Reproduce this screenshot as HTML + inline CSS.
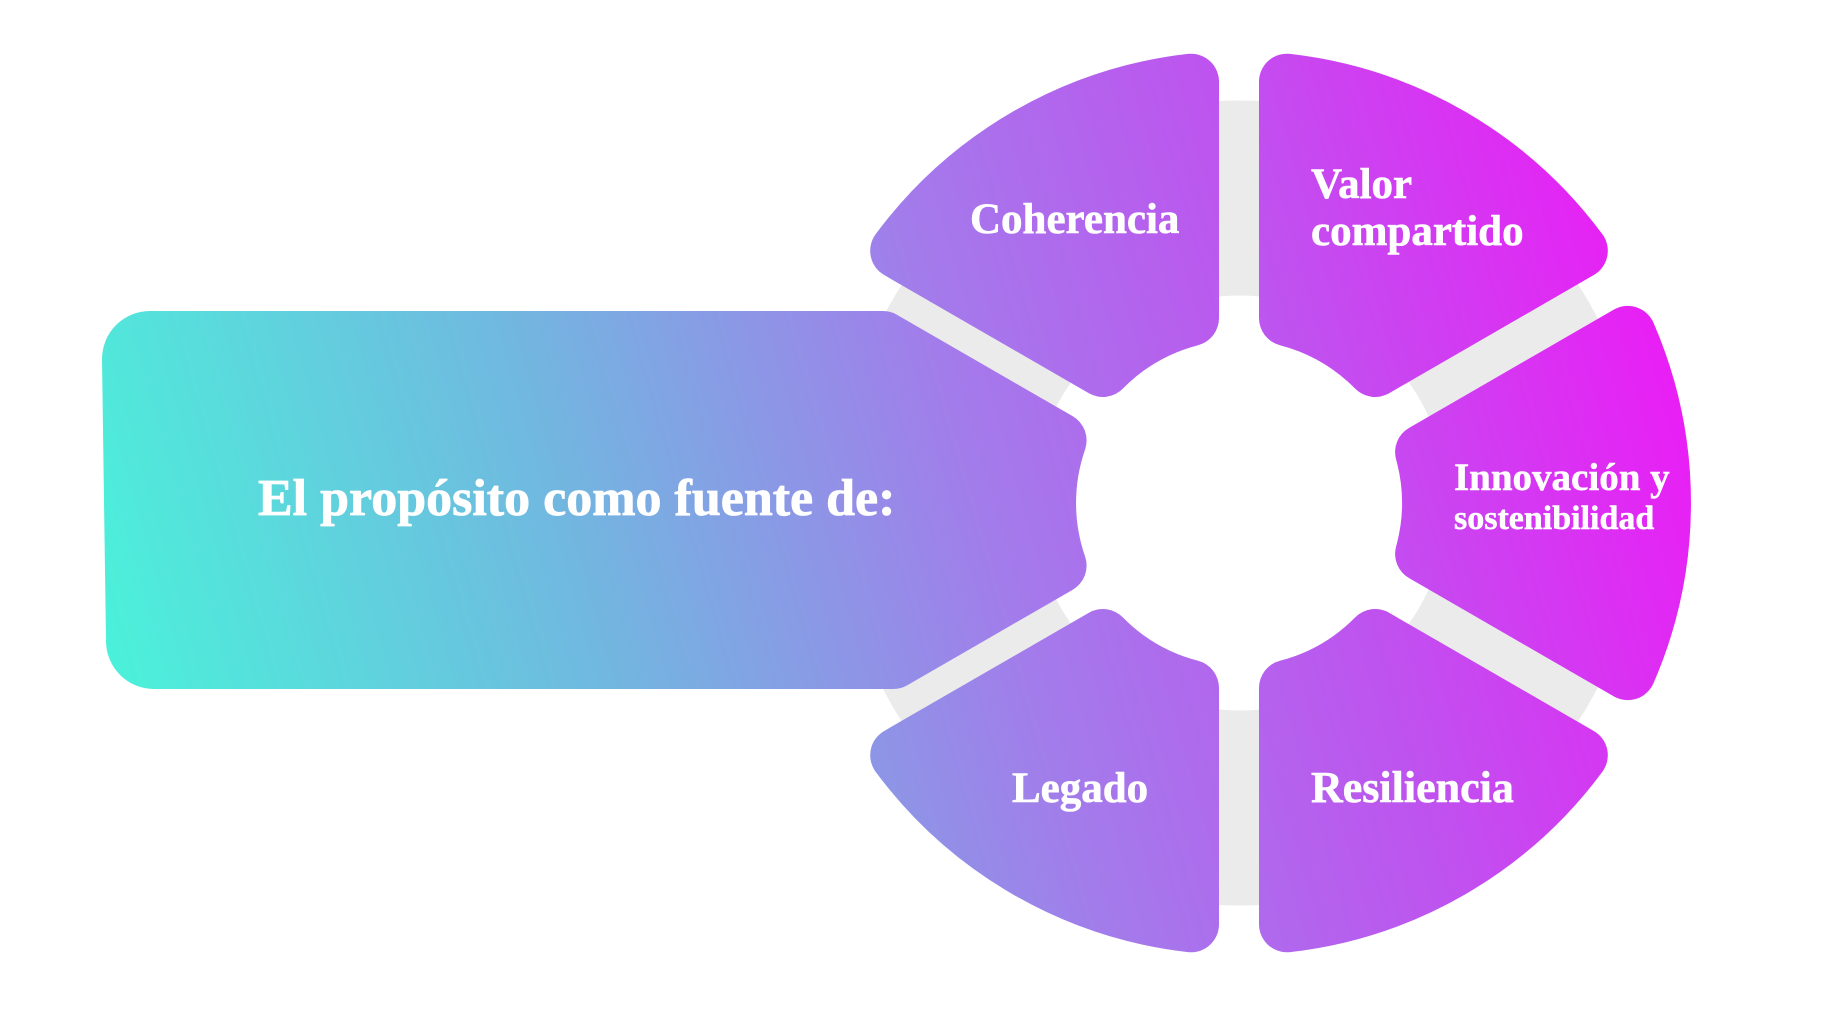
<!DOCTYPE html>
<html><head><meta charset="utf-8"><style>
html,body{margin:0;padding:0;background:#fff;width:1844px;height:1035px;overflow:hidden}
svg{display:block}
text{font-family:"Liberation Serif",serif;font-weight:bold;fill:#fff}
</style></head><body>
<svg id="s" width="1844" height="1035" viewBox="0 0 1844 1035" xmlns="http://www.w3.org/2000/svg">
<defs>
<linearGradient id="g" gradientUnits="userSpaceOnUse" x1="110" y1="700" x2="1700" y2="250">
<stop offset="0" stop-color="#4af2da"/>
<stop offset="0.3" stop-color="#72b6e0"/>
<stop offset="0.55" stop-color="#a47aeb"/>
<stop offset="0.75" stop-color="#bf52ef"/>
<stop offset="1" stop-color="#f016f6"/>
</linearGradient>
</defs>
<circle cx="1240" cy="503" r="305" fill="none" stroke="#ebebeb" stroke-width="195"/>
<g id="shapes" fill="url(#g)" stroke="url(#g)" stroke-width="56" stroke-linejoin="round"></g>
<text x="258" y="515" font-size="52" stroke="#fff" stroke-width="0.8">El propósito como fuente de:</text>
<text x="970" y="233" font-size="43" stroke="#fff" stroke-width="0.6">Coherencia</text>
<text x="1311" y="198" font-size="43" stroke="#fff" stroke-width="0.6">Valor</text>
<text x="1311" y="245" font-size="43" stroke="#fff" stroke-width="0.6">compartido</text>
<text x="1454" y="490" font-size="39" stroke="#fff" stroke-width="0.5">Innovación y</text>
<text x="1454" y="529" font-size="34" stroke="#fff" stroke-width="0.5">sostenibilidad</text>
<text x="1012" y="802" font-size="43" stroke="#fff" stroke-width="0.6">Legado</text>
<text x="1311" y="802" font-size="44" stroke="#fff" stroke-width="0.6">Resiliencia</text>
</svg>
<script>
(function(){
var cx=1239,cy=503,R=452,r=163,s=28,gh=20,d=gh+s;
var Ro=R-s,Ri=r+s;
function P(rho,deg){var a=deg*Math.PI/180;return [cx+rho*Math.cos(a),cy-rho*Math.sin(a)];}
function f(p){return p[0].toFixed(1)+','+p[1].toFixed(1);}
var dO=Math.asin(d/Ro)*180/Math.PI,dI=Math.asin(d/Ri)*180/Math.PI;
var out='';
[[-90,-30],[-30,30],[30,90],[90,150],[210,270]].forEach(function(b){
 var a1=b[0],a2=b[1];
 out+='<path d="M'+f(P(Ro,a1+dO))+' A'+Ro+','+Ro+' 0 0 0 '+f(P(Ro,a2-dO))+
 ' L'+f(P(Ri,a2-dI))+' A'+Ri+','+Ri+' 0 0 1 '+f(P(Ri,a1+dI))+' Z"/>';
});
var dl=d-12;
var dIl=Math.asin(dl/Ri)*180/Math.PI;
var top=311+s,bot=689-s,left=102+s,cr=20;
function edgePt(deg,yScreen,sign){
 var a=deg*Math.PI/180,u=[Math.cos(a),Math.sin(a)];
 var n=sign>0?[-u[1],u[0]]:[u[1],-u[0]];
 var ym=cy-yScreen;
 var t=(ym-dl*n[1])/u[1];
 return [cx+t*u[0]+dl*n[0],cy-(t*u[1]+dl*n[1])];
}
var pt=edgePt(150,top,1),pb=edgePt(210,bot,-1);
out+='<path d="M'+f(pt)+' L'+f(P(Ri,150+dIl))+' A'+Ri+','+Ri+' 0 0 0 '+f(P(Ri,210-dIl))+
 ' L'+f(pb)+' L'+(left+cr+4)+','+bot+' A'+cr+','+cr+' 0 0 1 '+(left+4)+','+(bot-cr)+
 ' L'+left+','+(top+cr)+' A'+cr+','+cr+' 0 0 1 '+(left+cr)+','+top+' Z"/>';
document.getElementById('shapes').innerHTML=out;
})();
</script>
</body></html>
